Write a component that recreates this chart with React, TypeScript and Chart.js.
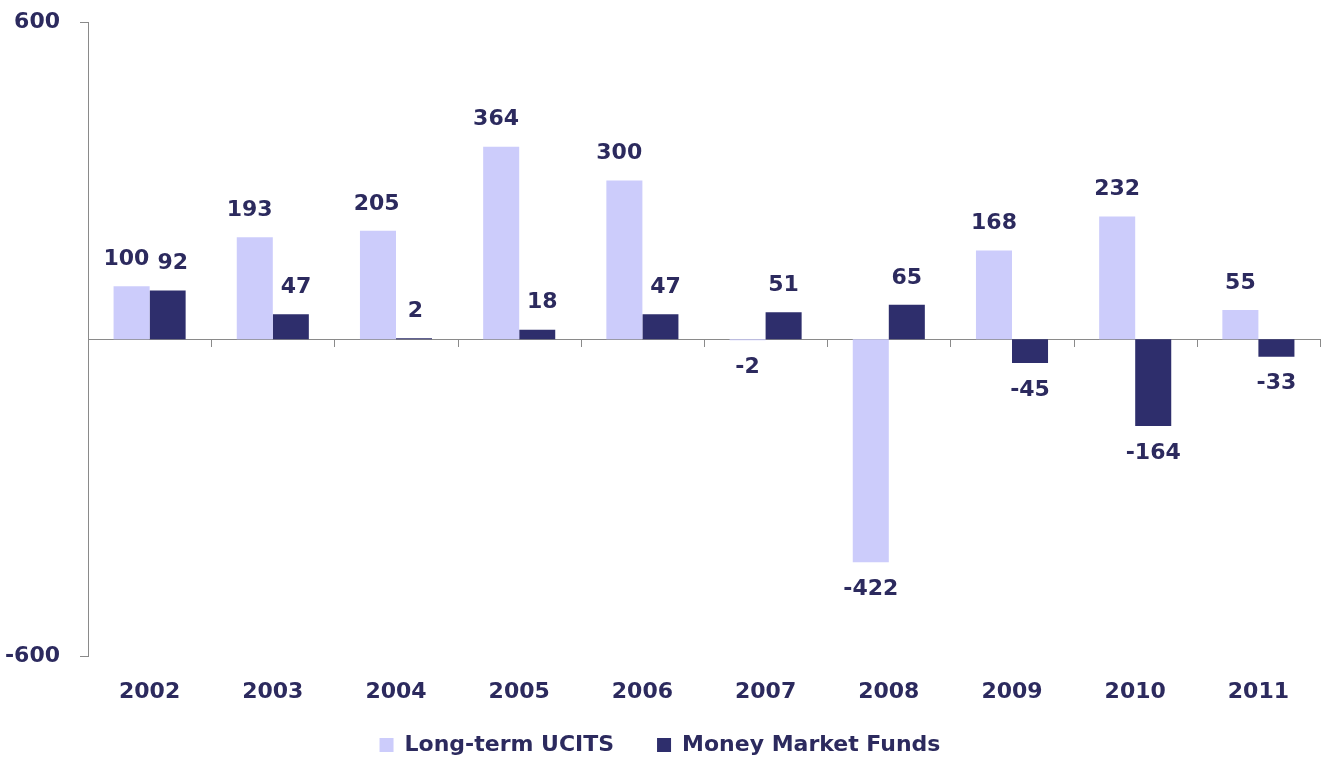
import React, { useEffect, useRef } from "react";
import { Chart, registerables } from "chart.js";

Chart.register(...registerables);

const categories = ["2002", "2003", "2004", "2005", "2006", "2007", "2008", "2009", "2010", "2011"];
const longTermUcits = [100, 193, 205, 364, 300, -2, -422, 168, 232, 55];
const moneyMarketFunds = [92, 47, 2, 18, 47, 51, 65, -45, -164, -33];
const yTicks = [-600, 600];

const TEXT = "#2c2a5e";
const LIGHT = "#ccccfb";
const DARK = "#2e2e6c";
const FONT = "'DejaVu Sans', sans-serif";
const WEIGHT = "bold";
const SIZE = 22;

const decorPlugin = {
  id: "decor",
  beforeDatasetsDraw(chart: any) {
    const { ctx, chartArea, scales } = chart;
    const y0 = scales.y.getPixelForValue(0);
    const xs = scales.x;
    const n = chart.data.labels.length;
    const step = xs.getPixelForValue(1) - xs.getPixelForValue(0);
    ctx.save();
    ctx.strokeStyle = "#8a8a8a";
    ctx.lineWidth = 1;
    ctx.beginPath();
    ctx.moveTo(chartArea.left, Math.round(y0) + 0.5);
    ctx.lineTo(chartArea.right, Math.round(y0) + 0.5);
    for (let i = 1; i <= n; i++) {
      const xb = xs.getPixelForValue(i - 1) + step / 2;
      const xr = Math.round(xb) + 0.5;
      ctx.moveTo(xr, Math.round(y0));
      ctx.lineTo(xr, Math.round(y0) + 8);
    }
    ctx.stroke();
    ctx.restore();
  },
  afterDatasetsDraw(chart: any) {
    const { ctx } = chart;
    ctx.save();
    ctx.fillStyle = TEXT;
    ctx.font = `${WEIGHT} ${SIZE}px ${FONT}`;
    ctx.textAlign = "center";
    ctx.textBaseline = "middle";
    const sets = chart.data.datasets;
    const m0 = chart.getDatasetMeta(0);
    const m1 = chart.getDatasetMeta(1);
    for (let i = 0; i < chart.data.labels.length; i++) {
      const items = [0, 1].map((di) => {
        const v = sets[di].data[i];
        const bar = (di === 0 ? m0 : m1).data[i];
        return { v, x: bar.x, y: v >= 0 ? bar.y - 27 : bar.y + 27, w: ctx.measureText(String(v)).width };
      });
      const a = items[0];
      const b = items[1];
      if (a.v >= 0 && b.v >= 0) {
        const overlap = a.x + a.w / 2 + 8 - (b.x - b.w / 2);
        if (overlap > 0) {
          a.x -= overlap / 2;
          b.x += overlap / 2;
        }
      }
      items.forEach((it) => ctx.fillText(String(it.v), it.x, it.y));
    }
    ctx.restore();
  },
};

export default function App() {
  const ref = useRef<HTMLCanvasElement>(null);
  useEffect(() => {
    document.body.style.margin = "0";
    const chart = new Chart(ref.current!, {
      type: "bar",
      data: {
        labels: categories,
        datasets: [
          { label: "Long-term UCITS", data: longTermUcits, backgroundColor: LIGHT, categoryPercentage: 0.585, barPercentage: 1.0 },
          { label: "Money Market Funds", data: moneyMarketFunds, backgroundColor: DARK, categoryPercentage: 0.585, barPercentage: 1.0 },
        ],
      },
      options: {
        animation: false,
        responsive: false,
        layout: { padding: { top: 22, right: 5, left: 0, bottom: -3 } },
        plugins: {
          tooltip: { enabled: false },
          legend: {
            position: "bottom",
            labels: {
              color: TEXT,
              font: { family: FONT, size: SIZE, weight: WEIGHT },
              boxWidth: 14,
              boxHeight: 14,
              padding: 27.6,
              generateLabels(chart: any) {
                const items = Chart.defaults.plugins.legend.labels.generateLabels(chart);
                if (items.length > 1) items[0].text = items[0].text + "  ";
                return items;
              },
            },
          },
        },
        scales: {
          x: {
            grid: { display: false },
            border: { display: false },
            ticks: { color: TEXT, font: { family: FONT, size: SIZE, weight: WEIGHT }, padding: 15 },
            afterFit(scale: any) {
              scale.height = 50;
            },
          },
          y: {
            min: -600,
            max: 600,
            afterBuildTicks(scale: any) {
              scale.ticks = yTicks.map((v) => ({ value: v }));
            },
            afterFit(scale: any) {
              scale.width = 88;
              scale.paddingTop = 0;
              scale.paddingBottom = 0;
            },
            grid: { drawOnChartArea: false, tickLength: 8, color: "#8a8a8a" },
            border: { display: true, color: "#8a8a8a" },
            ticks: { color: TEXT, font: { family: FONT, size: SIZE, weight: WEIGHT }, padding: 20 },
          },
        },
      },
      plugins: [decorPlugin],
    });
    return () => chart.destroy();
  }, []);
  return (
    <div style={{ width: 1325, height: 763 }}>
      <canvas ref={ref} width={1325} height={763} style={{ width: 1325, height: 763 }} />
    </div>
  );
}
